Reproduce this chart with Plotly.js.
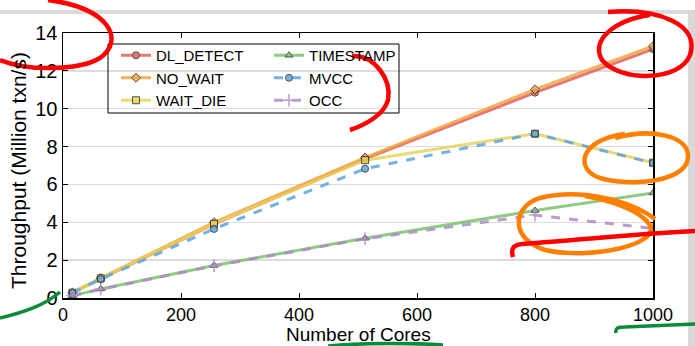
<!DOCTYPE html>
<html>
<head>
<meta charset="utf-8">
<script src="https://cdn.plot.ly/plotly-3.0.1.min.js"></script>
<style>html,body{margin:0;padding:0;background:#fff;}#chart{width:695px;height:346px;}</style>
</head>
<body>
<div id="chart"></div>
<script>
// ---- data ----
const cores = [16, 64, 256, 512, 800, 1000];
const dlDetect  = [0.28, 1.02, 3.90, 7.35, 10.85, 13.15];
const noWait    = [0.28, 1.05, 4.00, 7.42, 11.02, 13.30];
const waitDie   = [0.28, 1.04, 3.92, 7.28, 8.68, 7.15];
const timestamp = [0.12, 0.48, 1.72, 3.16, 4.62, 5.55];
const mvcc      = [0.26, 1.00, 3.65, 6.83, 8.68, 7.13];
const occ       = [0.12, 0.46, 1.70, 3.13, 4.38, 3.68];
const names = ['DL_DETECT', 'NO_WAIT', 'WAIT_DIE', 'TIMESTAMP', 'MVCC', 'OCC'];
const xTicks = [0, 200, 400, 600, 800, 1000];
const yTicks = [0, 2, 4, 6, 8, 10, 12, 14];
const xTitle = 'Number of Cores';
const yTitle = 'Throughput (Million txn/s)';

// ---- layout geometry (pixels) ----
const W = 695, H = 346, L = 63, R = 42, T = 33, B = 48;
const pw = W - L - R, ph = H - T - B;
const px = x => (x - L) / pw;
const py = y => (H - B - y) / ph;
const P = (x, y) => px(x).toFixed(4) + ',' + py(y).toFixed(4);

function mk(name, y, color, sym, dash, legend) {
  return {
    x: cores, y: y, name: name, type: 'scatter', mode: 'lines+markers',
    legend: legend, opacity: 0.85,
    line: {color: color, width: 3, dash: dash},
    marker: {symbol: sym, size: sym === 'cross-thin' ? 9 : 7, color: color,
             line: {color: sym === 'cross-thin' ? color : '#333', width: sym === 'cross-thin' ? 1.5 : 1}}
  };
}
const data = [
  mk(names[0], dlDetect, '#e3605b', 'circle', 'solid', 'legend'),
  mk(names[1], noWait, '#f3a443', 'diamond', 'solid', 'legend'),
  mk(names[2], waitDie, '#e7d45a', 'square', 'solid', 'legend'),
  mk(names[3], timestamp, '#7cc46e', 'triangle-up', 'solid', 'legend2'),
  mk(names[4], mvcc, '#5fa5dc', 'circle', 'dash', 'legend2'),
  mk(names[5], occ, '#b18ac6', 'cross-thin', 'dash', 'legend2')
];

function stroke(path, color, w) {
  return {type: 'path', xref: 'paper', yref: 'paper', path: path,
          line: {color: color, width: w}};
}
const shapes = [
  // screenshot frame bands
  {type: 'rect', xref: 'paper', yref: 'paper', x0: px(0), x1: px(689), y0: py(14), y1: py(10), fillcolor: '#d9d9d9', line: {width: 0}},
  {type: 'rect', xref: 'paper', yref: 'paper', x0: px(688), x1: px(696), y0: py(347), y1: py(10), fillcolor: '#d9d9d9', line: {width: 0}},
  // legend frame
  {type: 'rect', xref: 'paper', yref: 'paper', x0: px(108), x1: px(399), y0: py(113), y1: py(44), line: {color: '#000', width: 1}, fillcolor: 'rgba(255,255,255,0)'},
  // hand-drawn marks
  stroke('M' + P(48,0) + ' C' + P(110,8) + ' ' + P(125,40) + ' ' + P(100,58) + ' C' + P(80,70) + ' ' + P(30,72) + ' ' + P(0,60), '#ff0000', 4.5),
  stroke('M' + P(352,56) + ' C' + P(375,55) + ' ' + P(392,80) + ' ' + P(388,100) + ' C' + P(384,115) + ' ' + P(365,125) + ' ' + P(350,130), '#ff0000', 4.5),
  stroke('M' + P(608,12) + ' C' + P(660,8) + ' ' + P(700,25) + ' ' + P(690,55) + ' C' + P(680,82) + ' ' + P(620,82) + ' ' + P(602,60) + ' C' + P(590,40) + ' ' + P(615,20) + ' ' + P(650,15), '#ff0000', 4.5),
  stroke('M' + P(615,138) + ' C' + P(650,128) + ' ' + P(690,135) + ' ' + P(688,158) + ' C' + P(686,182) + ' ' + P(630,187) + ' ' + P(600,178) + ' C' + P(575,170) + ' ' + P(578,140) + ' ' + P(625,134), '#ff8000', 4.5),
  stroke('M' + P(655,219) + ' C' + P(630,200) + ' ' + P(580,188) + ' ' + P(540,198) + ' C' + P(510,208) + ' ' + P(512,240) + ' ' + P(545,250) + ' C' + P(590,260) + ' ' + P(660,245) + ' ' + P(650,225) + ' C' + P(640,210) + ' ' + P(610,200) + ' ' + P(585,196), '#ff8000', 4.5),
  stroke('M' + P(513,257) + ' C' + P(511,250) + ' ' + P(512,245) + ' ' + P(522,244) + ' C' + P(600,238) + ' ' + P(650,233) + ' ' + P(696,231), '#ff0000', 4.5),
  stroke('M' + P(0,318) + ' C' + P(25,312) + ' ' + P(45,305) + ' ' + P(60,292), '#0a8a3a', 3.5),
  stroke('M' + P(616,333) + ' C' + P(615,328) + ' ' + P(618,327) + ' ' + P(625,327) + ' L' + P(696,324), '#0a8a3a', 3.5),
  stroke('M' + P(328,346) + ' C' + P(360,343) + ' ' + P(410,343) + ' ' + P(443,345), '#0a8a3a', 3.5)
];

const font = 'Liberation Sans, Arial, sans-serif';
const legendCommon = {
  orientation: 'v', xanchor: 'left', yanchor: 'top', bgcolor: 'rgba(0,0,0,0)',
  borderwidth: 0, font: {family: font, size: 15, color: '#000'}, itemwidth: 30,
  tracegroupgap: 0
};
const layout = {
  width: W, height: H,
  margin: {l: L, r: R, t: T, b: B, pad: 0},
  paper_bgcolor: '#fff', plot_bgcolor: '#fff',
  font: {family: font, color: '#000'},
  showlegend: true,
  legend: Object.assign({}, legendCommon, {x: px(116), y: py(39)}),
  legend2: Object.assign({}, legendCommon, {x: px(269), y: py(39)}),
  xaxis: {
    range: [0, 1000], tickvals: xTicks, ticktext: xTicks.map(String),
    ticks: 'inside', ticklen: 5, tickwidth: 1, tickcolor: '#000',
    showline: true, linecolor: '#000', linewidth: 1.5, mirror: 'ticks',
    showgrid: false, zeroline: false,
    tickfont: {family: font, size: 18, color: '#000'}
  },
  yaxis: {
    range: [0, 14], tickvals: yTicks, ticktext: yTicks.map(String),
    ticks: 'inside', ticklen: 5, tickwidth: 1, tickcolor: '#000',
    showline: true, linecolor: '#000', linewidth: 1.5, mirror: 'ticks',
    showgrid: true, gridcolor: '#dcdcdc', gridwidth: 1.5, zeroline: false,
    tickfont: {family: font, size: 20, color: '#000'}
  },
  annotations: [
    {text: xTitle, xref: 'paper', yref: 'paper', x: 0.5, y: py(346), xanchor: 'center', yanchor: 'bottom',
     borderpad: 0, showarrow: false, font: {family: font, size: 19, color: '#000'}},
    {text: yTitle, xref: 'paper', yref: 'paper', x: px(18), y: py(171), xanchor: 'center', yanchor: 'middle',
     textangle: -90, showarrow: false, font: {family: font, size: 21, color: '#000'}}
  ],
  shapes: shapes
};
Plotly.newPlot('chart', data, layout, {displayModeBar: false, staticPlot: true});
</script>
</body>
</html>
